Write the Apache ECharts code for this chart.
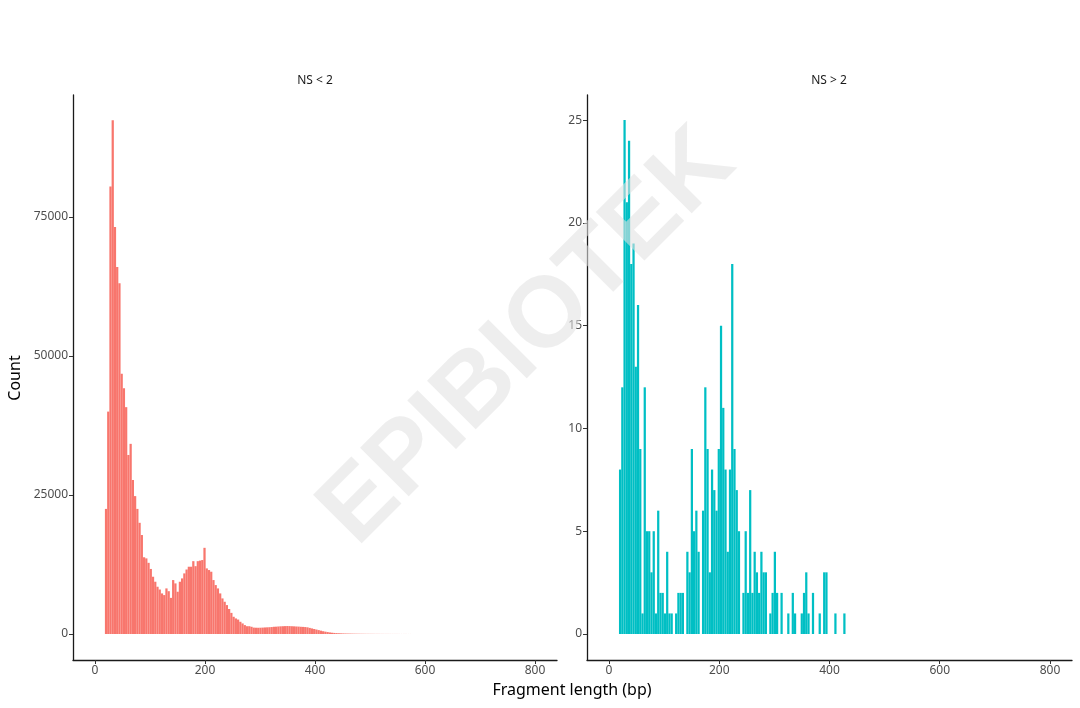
<!DOCTYPE html>
<html><head><meta charset="utf-8">
<script src="https://cdn.jsdelivr.net/npm/echarts@6/dist/echarts.min.js"></script>
<style>html,body{margin:0;padding:0;background:#fff}#c{width:1080px;height:708px}</style>
</head><body><div id="c"></div>
<script>
// Histogram bins (fragment length, bp)
const binStart = 18;
const binWidth = 4.07;
const panelTitles = ['NS < 2', 'NS > 2'];
const xTicks = [0, 200, 400, 600, 800];
const yTicksLow = [0, 25000, 50000, 75000];
const yTicksHigh = [0, 5, 10, 15, 20, 25];
const xTitle = 'Fragment length (bp)';
const yTitle = 'Count';
const watermark = 'EPIBIOTEK';

// counts per bin, NS < 2
const countsLow = [
  22500, 40000, 80500, 92400, 73200, 66000, 63100, 46800, 44200, 40800,
  32200, 34200, 27700, 24800, 22500, 20000, 17800, 13800, 13600, 12800,
  11700, 10300, 9400, 8500, 8000, 7300, 7000, 8200, 7700, 6500,
  9700, 9100, 7600, 9400, 10000, 10900, 11600, 12100, 12100, 13100,
  12200, 13100, 13200, 13300, 15500, 11800, 11500, 11200, 9700, 8800,
  8200, 7300, 6400, 5800, 5200, 4500, 3800, 3100, 2800, 2600,
  2200, 1900, 1600, 1400, 1400, 1300, 1150, 1130, 1120, 1130,
  1150, 1180, 1200, 1220, 1250, 1300, 1320, 1350, 1380, 1400,
  1420, 1430, 1420, 1400, 1380, 1350, 1330, 1300, 1280, 1250,
  1200, 1100, 1000, 900, 800, 700, 600, 500, 420, 350,
  280, 230, 190, 160, 135, 115, 100, 88, 78, 70,
  62, 55, 49, 44, 40, 36, 32, 29, 26, 24,
  22, 20, 18, 16, 15, 14, 13, 12, 11, 10,
  9, 8, 8, 7, 7, 6, 6, 5, 5, 4,
  4, 4, 3, 3, 3, 2, 2, 2, 2, 1,
  1, 1, 1, 1, 1, 1
];

// counts per bin, NS > 2
const countsHigh = [
  8, 12, 25, 21, 24, 18, 19, 13, 16, 9,
  1, 12, 5, 5, 3, 5, 1, 6, 2, 2,
  1, 4, 1, 1, 0, 1, 2, 2, 2, 0,
  4, 3, 9, 5, 6, 4, 0, 6, 12, 9,
  3, 8, 7, 6, 9, 15, 11, 8, 4, 8,
  18, 9, 7, 5, 0, 2, 5, 2, 7, 2,
  4, 3, 2, 4, 3, 3, 0, 1, 2, 4,
  2, 0, 2, 0, 0, 1, 0, 2, 1, 0,
  0, 1, 2, 3, 1, 0, 2, 0, 0, 1,
  0, 3, 3, 0, 0, 0, 1, 0, 0, 0,
  1
];

const FONT = '"Noto Sans", "Open Sans", sans-serif';
const colorLow = '#F8766D';
const colorHigh = '#00BFC4';

function toData(counts) {
  return counts.map((c, i) => [binStart + i * binWidth, c]);
}

function barRenderer(color) {
  return function (params, api) {
    const x0 = api.value(0);
    const v = api.value(1);
    if (!v) return null;
    const p1 = api.coord([x0, v]);
    const p2 = api.coord([x0 + binWidth, 0]);
    return {
      type: 'rect',
      shape: { x: p1[0], y: p1[1], width: p2[0] - p1[0], height: p2[1] - p1[1] },
      style: { fill: color }
    };
  };
}

function xAxisCfg(gi) {
  return {
    type: 'value', gridIndex: gi, min: -40, max: 840,
    axisLine: { show: true, onZero: false, lineStyle: { color: '#1a1a1a', width: 1.3 } },
    axisTick: { show: true, customValues: xTicks, length: 4, lineStyle: { color: '#333', width: 1 } },
    axisLabel: { customValues: xTicks, color: '#4d4d4d', fontSize: 12, margin: 5, fontFamily: FONT, formatter: v => String(v) },
    splitLine: { show: false }
  };
}
function yAxisCfg(gi, min, max, ticks) {
  return {
    type: 'value', gridIndex: gi, min: min, max: max,
    axisLine: { show: true, onZero: false, lineStyle: { color: '#1a1a1a', width: 1.3 } },
    axisTick: { show: true, customValues: ticks, length: 4, lineStyle: { color: '#333', width: 1 } },
    axisLabel: { customValues: ticks, color: '#4d4d4d', fontSize: 12, margin: 5, fontFamily: FONT, formatter: v => String(v) },
    splitLine: { show: false }
  };
}

const chart = echarts.init(document.getElementById('c'), null, { renderer: 'canvas' });
chart.setOption({
  backgroundColor: '#ffffff',
  animation: false,
  grid: [
    { left: 73, width: 484, top: 95, bottom: 48 },
    { left: 587, width: 485, top: 95, bottom: 48 }
  ],
  xAxis: [xAxisCfg(0), xAxisCfg(1)],
  yAxis: [
    yAxisCfg(0, -4676, 96942, yTicksLow),
    yAxisCfg(1, -1.265, 26.22, yTicksHigh)
  ],
  series: [
    { type: 'custom', xAxisIndex: 0, yAxisIndex: 0, data: toData(countsLow), renderItem: barRenderer(colorLow), encode: { x: 0, y: 1 } },
    { type: 'custom', xAxisIndex: 1, yAxisIndex: 1, data: toData(countsHigh), renderItem: barRenderer(colorHigh), encode: { x: 0, y: 1 } }
  ],
  graphic: [
    { type: 'text', z: 50, x: 315, y: 81, style: { text: panelTitles[0], fill: '#1a1a1a', font: '12px ' + FONT, align: 'center', verticalAlign: 'middle' } },
    { type: 'text', z: 50, x: 829, y: 81, style: { text: panelTitles[1], fill: '#1a1a1a', font: '12px ' + FONT, align: 'center', verticalAlign: 'middle' } },
    { type: 'text', z: 50, x: 572, y: 690, style: { text: xTitle, fill: '#000', font: '16px ' + FONT, align: 'center', verticalAlign: 'middle' } },
    { type: 'text', z: 50, x: 15, y: 378, rotation: Math.PI / 2, style: { text: yTitle, fill: '#000', font: '16px ' + FONT, align: 'center', verticalAlign: 'middle' } },
    { type: 'text', z: 100, x: 528, y: 338, rotation: Math.PI / 4, style: { text: watermark, fill: 'rgba(225,225,225,0.58)', font: 'bold 100px "Liberation Sans", Arial, sans-serif', align: 'center', verticalAlign: 'middle' } }
  ]
});
</script>
</body></html>
